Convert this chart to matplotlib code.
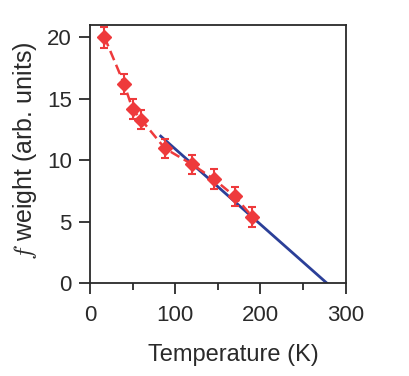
import numpy as np
import matplotlib.pyplot as plt

plt.rcParams['font.family'] = ['Liberation Sans', 'DejaVu Sans']
plt.rcParams['mathtext.fontset'] = 'cm'

# f weight vs temperature
temp = [17, 40, 50, 60, 88, 120, 145.5, 170, 190.5]
weight = [20.0, 16.2, 14.15, 13.3, 10.95, 9.65, 8.45, 7.05, 5.4]
err = [0.85, 0.8, 0.8, 0.8, 0.8, 0.8, 0.8, 0.8, 0.8]

# linear fit (blue)
fit_t = [83, 278]
fit_w = [11.95, 0.0]

red = '#ee3a3c'
blue = '#2b3f98'
dark = '#2a2a2a'

fig = plt.figure(figsize=(4.09, 3.76), dpi=100)
ax = fig.add_axes([0.220, 0.247, 0.625, 0.687])

ax.plot(fit_t, fit_w, color=blue, lw=2.0, zorder=2)
ax.errorbar(temp, weight, yerr=err, color=red, ls=(0, (4, 2)), lw=1.8,
            marker='D', ms=7, capsize=3, capthick=1.5, elinewidth=1.5, zorder=3)

ax.set_xlim(0, 300)
ax.set_ylim(0, 21)
ax.set_xticks([0, 100, 200, 300])
ax.set_xticks([50, 150, 250], minor=True)
ax.set_yticks([0, 5, 10, 15, 20])

for s in ax.spines.values():
    s.set_color(dark)
    s.set_linewidth(1.3)

ax.tick_params(axis='both', which='major', direction='out', length=8, width=1.3,
               color=dark, labelsize=16, labelcolor=dark)
ax.tick_params(axis='x', which='major', pad=8)
ax.tick_params(axis='y', which='major', pad=5)
ax.tick_params(axis='x', which='minor', direction='out', length=5, width=1.3, color=dark)

ax.set_xlabel('Temperature (K)', fontsize=17, color=dark)
ax.set_ylabel(r'$f$ weight (arb. units)', fontsize=18, color=dark)
ax.xaxis.set_label_coords(0.56, -0.235)
ax.yaxis.set_label_coords(-0.2, 0.512)

fig.savefig('out.png', dpi=100)
